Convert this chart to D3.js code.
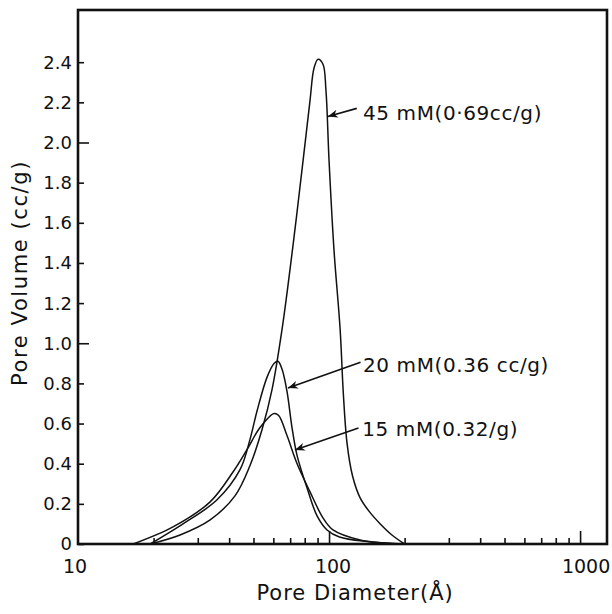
<!DOCTYPE html>
<html>
<head>
<meta charset="utf-8">
<script src="https://cdn.jsdelivr.net/npm/d3@7"></script>
<style>
  body { margin: 0; background: #fff; }
  svg { display: block; }
  text { font-family: "DejaVu Sans", sans-serif; fill: #111; }
</style>
</head>
<body>
<div id="chart"></div>
<script>
// pore diameter (Å) vs pore volume (cc/g)
const series45 = [
  [19.4, 0], [25.5, 0.045], [33.6, 0.12], [42.2, 0.24], [48.4, 0.39], [54.1, 0.57],
  [59.3, 0.77], [65, 1.07], [71.9, 1.49], [78.8, 1.91], [84, 2.21], [87.1, 2.37],
  [90.4, 2.415], [94.6, 2.39], [97.2, 2.26], [100, 1.91], [104.7, 1.46], [110.7, 1.07],
  [114, 0.75], [118, 0.5], [124, 0.34], [133, 0.23], [145, 0.16], [160, 0.1],
  [178, 0.045], [200, 0]
];
const series20 = [
  [19.4, 0], [26.2, 0.1], [35.8, 0.22], [44.2, 0.37], [48.4, 0.52], [51.6, 0.66],
  [56.6, 0.83], [60.5, 0.9], [62.6, 0.91], [65, 0.87], [68, 0.76], [71.2, 0.58],
  [74.6, 0.44], [81.7, 0.28], [89.6, 0.14], [98.2, 0.07], [110, 0.035], [141.6, 0.012], [195, 0]
];
const series15 = [
  [16.6, 0], [23.9, 0.085], [33.6, 0.21], [41.5, 0.36], [47.1, 0.47], [53.1, 0.58],
  [60.4, 0.65], [63, 0.64], [68, 0.54], [74.6, 0.4], [84, 0.26], [94.6, 0.13],
  [103.7, 0.07], [133, 0.02], [190, 0]
];

const xMajorTicks = [10, 100, 1000];
const xMinorTicks = [20, 30, 40, 50, 60, 70, 80, 90, 200, 300, 400, 500, 600, 700, 800, 900];
const yTicks = [0, 0.2, 0.4, 0.6, 0.8, 1.0, 1.2, 1.4, 1.6, 1.8, 2.0, 2.2, 2.4];
const yTickLabels = ["0", "0.2", "0.4", "0.6", "0.8", "1.0", "1.2", "1.4", "1.6", "1.8", "2.0", "2.2", "2.4"];

// labels: text start, line start, arrow tip (data coords)
const labelTexts = ["45 mM(0·69cc/g)", "20 mM(0.36 cc/g)", "15 mM(0.32/g)"];
const labelAt = [[136.5, 2.15], [136.5, 0.895], [135.6, 0.575]];
const arrowFrom = [[129, 2.17], [133.5, 0.905], [131, 0.578]];
const arrowTo = [[98.9, 2.13], [68.6, 0.777], [73.1, 0.468]];

const W = 612, H = 614;
const margin = { top: 10, right: 5, bottom: 70, left: 78 };
const width = W - margin.left - margin.right;
const height = H - margin.top - margin.bottom;

const svg = d3.select("#chart").append("svg")
  .attr("width", W)
  .attr("height", H);

svg.append("defs").append("marker")
  .attr("id", "arrow")
  .attr("viewBox", "0 -5 10 10")
  .attr("refX", 10)
  .attr("refY", 0)
  .attr("markerWidth", 10)
  .attr("markerHeight", 10)
  .attr("markerUnits", "userSpaceOnUse")
  .attr("orient", "auto")
  .append("path")
  .attr("d", "M10,0L0,-4L3,0L0,4Z")
  .attr("fill", "#111");

const g = svg.append("g")
  .attr("transform", `translate(${margin.left},${margin.top})`);

const x = d3.scaleLog().domain([10, 1280]).range([0, width]);
const y = d3.scaleLinear().domain([0, 2.66]).range([height, 0]);

// x ticks point up into the plot
g.append("g")
  .attr("transform", `translate(0,${height})`)
  .call(d3.axisTop(x).tickValues(xMinorTicks).tickSize(6).tickFormat(""))
  .call(a => a.select(".domain").remove())
  .selectAll("line").attr("stroke", "#111").attr("stroke-width", 1.6);

g.append("g")
  .attr("transform", `translate(0,${height})`)
  .call(d3.axisTop(x).tickValues(xMajorTicks.slice(1)).tickSize(13).tickFormat(""))
  .call(a => a.select(".domain").remove())
  .selectAll("line").attr("stroke", "#111").attr("stroke-width", 1.6);

g.selectAll(".xlab")
  .data(xMajorTicks)
  .enter()
  .append("text")
  .attr("class", "xlab")
  .attr("x", d => x(d) + (d === 1000 ? 6 : (d === 10 ? -3 : 4)))
  .attr("y", height + 29)
  .attr("text-anchor", "middle")
  .style("font-size", "19px")
  .text(d => d);

// y ticks point right into the plot
const yAxis = g.append("g")
  .call(d3.axisRight(y).tickValues(yTicks).tickSize(6).tickFormat(""));
yAxis.select(".domain").remove();
yAxis.selectAll(".tick line")
  .attr("x2", d => (d === 1.0 || d === 2.0) ? 11 : 6)
  .attr("stroke", "#111")
  .attr("stroke-width", 1.6);

g.selectAll(".ylab")
  .data(yTicks)
  .enter()
  .append("text")
  .attr("class", "ylab")
  .attr("x", -6)
  .attr("y", d => y(d))
  .attr("dy", "0.36em")
  .attr("text-anchor", "end")
  .style("font-size", "18px")
  .text((d, i) => yTickLabels[i]);

// frame
g.append("rect")
  .attr("x", 0)
  .attr("y", 0)
  .attr("width", width)
  .attr("height", height)
  .attr("fill", "none")
  .attr("stroke", "#111")
  .attr("stroke-width", 2.6);

const line = d3.line()
  .x(d => x(d[0]))
  .y(d => y(Math.max(0, d[1])))
  .curve(d3.curveCatmullRom.alpha(0.5));

[series45, series20, series15].forEach(s => {
  g.append("path")
    .datum(s)
    .attr("d", line)
    .attr("fill", "none")
    .attr("stroke", "#111")
    .attr("stroke-width", 1.5);
});

// annotations
labelTexts.forEach((t, i) => {
  g.append("line")
    .attr("x1", x(arrowFrom[i][0]))
    .attr("y1", y(arrowFrom[i][1]))
    .attr("x2", x(arrowTo[i][0]))
    .attr("y2", y(arrowTo[i][1]))
    .attr("stroke", "#111")
    .attr("stroke-width", 1.6)
    .attr("marker-end", "url(#arrow)");

  g.append("text")
    .attr("x", x(labelAt[i][0]))
    .attr("y", y(labelAt[i][1]))
    .attr("dy", "0.36em")
    .style("font-size", "20px")
    .style("letter-spacing", "0.6px")
    .text(t);
});

// axis titles
svg.append("text")
  .attr("x", margin.left + x(100) + 26)
  .attr("y", H - 14)
  .attr("text-anchor", "middle")
  .style("font-size", "21px")
  .style("letter-spacing", "1px")
  .text("Pore Diameter(Å)");

svg.append("text")
  .attr("transform", `translate(27,${margin.top + y(1.35)}) rotate(-90)`)
  .attr("text-anchor", "middle")
  .style("font-size", "21px")
  .style("letter-spacing", "1.6px")
  .text("Pore Volume (cc/g)");
</script>
</body>
</html>
